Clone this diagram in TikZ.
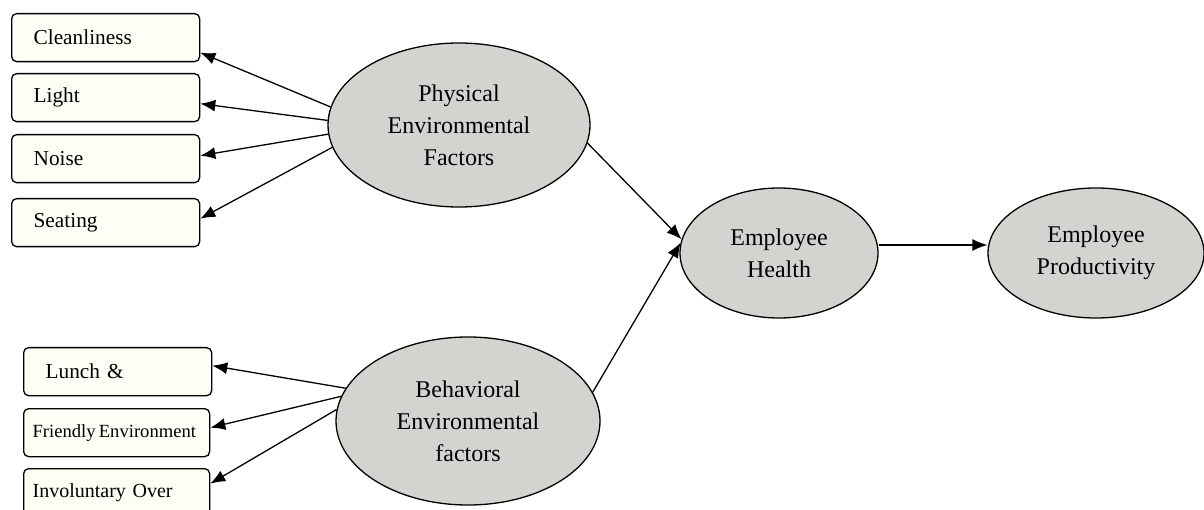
\documentclass[tikz,border=0pt]{standalone}
\usepackage{fontspec}
\setmainfont{Liberation Serif}
\usetikzlibrary{shapes.geometric,arrows.meta}
\definecolor{ovalfill}{HTML}{D3D3CF}
\definecolor{boxfill}{HTML}{FEFEF7}
\tikzset{
  itembox/.style={draw=black, line width=1.3pt, fill=boxfill, rounded corners=5pt,
    anchor=north west, inner xsep=22pt, inner ysep=0pt, text width=144pt,
    minimum height=48pt, align=left, font=\fontsize{21.3}{24}\selectfont},
  oval/.style={draw=black, line width=1.3pt, fill=ovalfill, ellipse, inner sep=0pt,
    align=center, font=\fontsize{24}{32}\selectfont},
  link/.style={line width=1.3pt, -{Latex[length=15pt,width=12pt]}}
}
\begin{document}
\begin{tikzpicture}[x=1pt,y=-1pt]
\clip (0,0) rectangle (1204,510);
\fill[white] (0,0) rectangle (1204,510);

% indicator boxes
\node[itembox] (cl) at (11,13) {Cleanliness};
\node[itembox] (li) at (11,73) {Light};
\node[itembox] (no) at (11,134) {Noise};
\node[itembox] (se) at (11,198) {Seating};
\node[itembox] (lu) at (23,347) {Lunch \&};
\node[itembox, inner xsep=9pt, text width=168pt, font=\fontsize{18.6}{22}\selectfont] (fr) at (23,408) {\mbox{Friendly\hspace{-3pt} Environment}};
\node[itembox, inner xsep=9pt, text width=168pt, font=\fontsize{20}{23}\selectfont] (in) at (23,468) {Involuntary Over};

% latent constructs
\node[oval, minimum width=262pt, minimum height=164pt] (pe) at (459,125) {Physical\\Environmental\\Factors};
\node[oval, minimum width=264pt, minimum height=168pt] (be) at (468,421) {Behavioral\\Environmental\\factors};
\node[oval, minimum width=198pt, minimum height=130pt] (eh) at (779,253) {Employee\\Health};
\node[oval, minimum width=216pt, minimum height=130pt] (ep) at (1096,253) {Employee\\Productivity};

% reflective indicator arrows
\draw[link] (pe.172) -- ([yshift=-15pt]cl.east);
\draw[link] (pe.178) -- ([yshift=-6pt]li.east);
\draw[link] (pe.184) -- ([yshift=3pt]no.east);
\draw[link] (pe.190) -- ([yshift=4pt]se.east);
\draw[link] (be.165) -- ([yshift=6pt]lu.east);
\draw[link] (be.169) -- ([yshift=5pt]fr.east);
\draw[link] (be.175) -- ([yshift=9pt]in.east);

% structural paths
\draw[link] (pe.-8) -- (eh.172);
\draw[link] (be.13) -- (eh.174);
\draw[link] ([yshift=8pt]eh.east) -- ([yshift=8pt]ep.west);
\end{tikzpicture}
\end{document}
